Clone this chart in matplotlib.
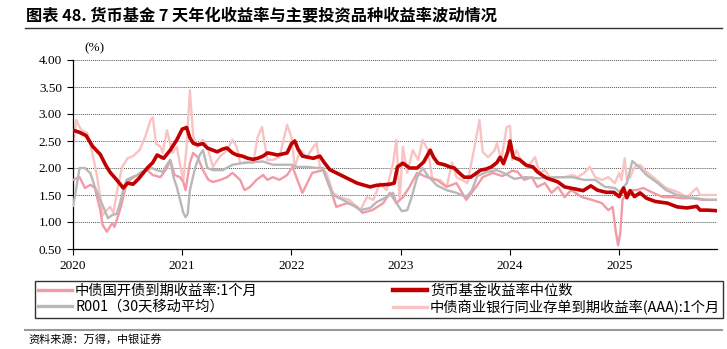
import matplotlib
matplotlib.use("Agg")
import matplotlib.pyplot as plt
from matplotlib.lines import Line2D
import numpy as np

plt.rcParams['font.family'] = ['Liberation Serif', 'Noto Sans CJK SC', 'DejaVu Sans']

# ---- data: x = years since 2020-01-01, y = yield (%) ----
mf_t = [0.0, 0.06, 0.12, 0.18, 0.25, 0.30, 0.34, 0.40, 0.46, 0.50, 0.55, 0.60, 0.68, 0.73, 0.77, 0.83, 0.89, 0.95,
        1.00, 1.04, 1.07, 1.10, 1.14, 1.19, 1.23, 1.28, 1.32, 1.37, 1.41, 1.46, 1.50, 1.55, 1.60, 1.65, 1.69, 1.74,
        1.78, 1.83, 1.87, 1.92, 1.96, 2.00, 2.03, 2.06, 2.10, 2.15, 2.20, 2.26, 2.30, 2.35, 2.40, 2.45, 2.50, 2.54,
        2.60, 2.65, 2.72, 2.78, 2.84, 2.90, 2.94, 2.97, 3.02, 3.08, 3.15, 3.21, 3.27, 3.30, 3.34, 3.40, 3.45, 3.49,
        3.54, 3.58, 3.64, 3.69, 3.73, 3.78, 3.83, 3.88, 3.91, 3.94, 3.98, 4.00, 4.03, 4.09, 4.15, 4.21, 4.25, 4.30,
        4.34, 4.40, 4.44, 4.50, 4.55, 4.60, 4.67, 4.74, 4.80, 4.88, 4.95, 5.00, 5.04, 5.07, 5.10, 5.14, 5.19, 5.25,
        5.33, 5.44, 5.53, 5.62, 5.71, 5.74, 5.80, 5.89]
mf_v = [2.70, 2.66, 2.60, 2.40, 2.25, 2.05, 1.92, 1.78, 1.63, 1.72, 1.70, 1.80, 2.00, 2.10, 2.24, 2.18, 2.33, 2.52,
        2.72, 2.75, 2.56, 2.46, 2.43, 2.45, 2.37, 2.33, 2.30, 2.35, 2.37, 2.28, 2.24, 2.22, 2.18, 2.16, 2.18, 2.22,
        2.28, 2.26, 2.24, 2.26, 2.28, 2.45, 2.50, 2.35, 2.22, 2.20, 2.18, 2.22, 2.10, 1.97, 1.92, 1.87, 1.82, 1.78,
        1.72, 1.69, 1.65, 1.68, 1.69, 1.70, 1.72, 2.02, 2.09, 2.00, 2.00, 2.11, 2.33, 2.20, 2.09, 2.06, 2.02, 2.00,
        1.90, 1.83, 1.83, 1.90, 1.96, 1.98, 2.02, 2.10, 2.20, 2.08, 2.30, 2.50, 2.20, 2.15, 2.05, 2.02, 1.93, 1.86,
        1.81, 1.77, 1.74, 1.65, 1.63, 1.61, 1.58, 1.67, 1.59, 1.55, 1.55, 1.47, 1.63, 1.45, 1.58, 1.47, 1.54, 1.44,
        1.38, 1.35, 1.28, 1.26, 1.29, 1.22, 1.22, 1.21]

r001_t = [0.0, 0.02, 0.06, 0.11, 0.16, 0.20, 0.25, 0.29, 0.32, 0.36, 0.40, 0.43, 0.46, 0.49, 0.54, 0.59, 0.63, 0.68,
          0.72, 0.77, 0.82, 0.86, 0.89, 0.92, 0.95, 0.98, 1.01, 1.03, 1.05, 1.07, 1.12, 1.16, 1.19, 1.23, 1.28, 1.37,
          1.46, 1.55, 1.65, 1.74, 1.83, 1.92, 2.01, 2.05, 2.15, 2.23, 2.29, 2.33, 2.38, 2.44, 2.53, 2.63, 2.72, 2.78,
          2.87, 2.93, 2.96, 3.01, 3.06, 3.10, 3.15, 3.20, 3.25, 3.33, 3.42, 3.51, 3.60, 3.65, 3.70, 3.79, 3.88, 3.95,
          4.04, 4.14, 4.25, 4.41, 4.57, 4.68, 4.78, 4.87, 4.96, 5.00, 5.03, 5.07, 5.12, 5.19, 5.25, 5.34, 5.43, 5.53,
          5.62, 5.71, 5.80, 5.89]
r001_v = [1.30, 1.50, 2.00, 2.00, 1.90, 1.65, 1.41, 1.22, 1.07, 1.13, 1.15, 1.35, 1.59, 1.78, 1.83, 1.87, 1.93, 1.96,
          2.00, 1.96, 1.93, 2.06, 2.15, 1.83, 1.65, 1.41, 1.17, 1.09, 1.15, 1.59, 2.02, 2.24, 2.33, 2.00, 1.96, 1.96,
          2.06, 2.09, 2.11, 2.12, 2.06, 2.06, 2.06, 2.02, 2.02, 2.00, 2.00, 1.75, 1.50, 1.44, 1.35, 1.22, 1.26, 1.37,
          1.46, 1.54, 1.35, 1.20, 1.22, 1.46, 1.83, 2.00, 1.85, 1.68, 1.59, 1.54, 1.46, 1.58, 1.85, 1.93, 1.96, 1.90,
          1.80, 1.83, 1.81, 1.83, 1.83, 1.78, 1.78, 1.65, 1.63, 1.56, 1.62, 1.72, 2.13, 2.00, 1.87, 1.74, 1.59, 1.50,
          1.46, 1.44, 1.41, 1.41]

cdb_t = [0.0, 0.06, 0.11, 0.16, 0.20, 0.25, 0.27, 0.31, 0.36, 0.38, 0.43, 0.46, 0.49, 0.54, 0.59, 0.63, 0.68, 0.73,
         0.80, 0.86, 0.89, 0.93, 0.98, 1.01, 1.03, 1.07, 1.10, 1.14, 1.19, 1.24, 1.28, 1.35, 1.41, 1.46, 1.53, 1.57,
         1.62, 1.68, 1.74, 1.78, 1.83, 1.89, 1.96, 2.01, 2.05, 2.10, 2.19, 2.29, 2.35, 2.41, 2.51, 2.60, 2.65, 2.74,
         2.84, 2.90, 2.96, 3.02, 3.08, 3.15, 3.24, 3.33, 3.42, 3.51, 3.60, 3.69, 3.75, 3.84, 3.93, 3.98, 4.02, 4.07,
         4.13, 4.20, 4.25, 4.32, 4.38, 4.44, 4.50, 4.56, 4.66, 4.75, 4.84, 4.90, 4.94, 4.97, 4.99, 5.01, 5.03, 5.07,
         5.10, 5.16, 5.22, 5.31, 5.40, 5.49, 5.58, 5.67, 5.76, 5.89]
cdb_v = [1.78, 1.83, 1.63, 1.69, 1.63, 1.22, 0.95, 0.82, 0.98, 0.91, 1.22, 1.46, 1.72, 1.81, 1.87, 1.93, 1.96, 1.87,
         1.83, 2.00, 2.15, 1.87, 1.83, 1.74, 1.59, 2.09, 2.28, 2.20, 1.96, 1.78, 1.74, 1.78, 1.83, 1.91, 1.78, 1.59,
         1.65, 1.78, 1.87, 1.78, 1.83, 1.78, 1.87, 2.02, 1.80, 1.54, 1.91, 1.96, 1.65, 1.28, 1.35, 1.28, 1.17, 1.22,
         1.35, 1.54, 1.35, 1.46, 1.65, 1.91, 1.83, 1.78, 1.65, 1.72, 1.41, 1.65, 1.83, 1.91, 1.85, 1.90, 1.95, 1.93,
         1.78, 1.83, 1.65, 1.72, 1.54, 1.65, 1.46, 1.59, 1.46, 1.41, 1.35, 1.22, 1.28, 0.80, 0.57, 0.80, 1.41, 1.54,
         1.59, 1.59, 1.63, 1.54, 1.46, 1.46, 1.44, 1.44, 1.41, 1.41]

ncd_t = [0.0, 0.03, 0.06, 0.08, 0.13, 0.18, 0.22, 0.25, 0.27, 0.31, 0.34, 0.37, 0.41, 0.45, 0.50, 0.55, 0.61, 0.66,
         0.71, 0.73, 0.76, 0.80, 0.82, 0.86, 0.91, 0.95, 0.99, 1.01, 1.04, 1.07, 1.10, 1.14, 1.19, 1.23, 1.28, 1.34,
         1.41, 1.46, 1.50, 1.53, 1.59, 1.65, 1.69, 1.73, 1.76, 1.78, 1.83, 1.89, 1.96, 2.00, 2.03, 2.08, 2.14, 2.20,
         2.23, 2.26, 2.32, 2.38, 2.44, 2.53, 2.63, 2.69, 2.75, 2.81, 2.87, 2.93, 2.96, 2.99, 3.02, 3.06, 3.11, 3.16,
         3.20, 3.25, 3.29, 3.36, 3.42, 3.47, 3.51, 3.56, 3.61, 3.67, 3.72, 3.75, 3.80, 3.86, 3.88, 3.92, 3.97, 4.00,
         4.02, 4.06, 4.11, 4.16, 4.23, 4.27, 4.32, 4.38, 4.44, 4.50, 4.57, 4.62, 4.68, 4.73, 4.78, 4.84, 4.90, 4.96,
         5.00, 5.02, 5.05, 5.07, 5.10, 5.14, 5.19, 5.25, 5.34, 5.43, 5.53, 5.62, 5.71, 5.74, 5.80, 5.89]
ncd_v = [2.39, 2.89, 2.76, 2.70, 2.65, 2.25, 1.85, 1.45, 1.12, 1.22, 1.28, 1.17, 1.65, 2.02, 2.18, 2.22, 2.33, 2.57,
         2.89, 2.94, 2.45, 2.40, 2.28, 2.70, 2.28, 2.39, 1.96, 1.78, 2.39, 3.44, 2.60, 2.39, 2.52, 2.39, 2.02, 2.20,
         2.33, 2.52, 2.39, 2.09, 2.11, 2.09, 2.57, 2.76, 2.39, 2.15, 2.15, 2.20, 2.80, 2.57, 2.02, 2.33, 2.20, 2.39,
         2.46, 2.02, 1.91, 1.54, 1.46, 1.41, 1.22, 1.46, 1.41, 1.72, 1.59, 2.09, 2.52, 1.41, 2.39, 1.91, 2.33, 2.15,
         2.52, 2.33, 1.78, 1.78, 1.65, 2.10, 1.83, 1.78, 1.72, 2.33, 2.89, 2.30, 2.20, 2.33, 2.46, 2.15, 2.76, 2.78,
         2.15, 2.33, 2.09, 2.02, 2.20, 1.91, 1.96, 1.78, 1.83, 1.83, 1.87, 1.83, 1.91, 2.02, 1.83, 1.78, 1.83, 1.72,
         1.91, 1.78, 2.18, 1.78, 1.83, 2.02, 2.06, 1.93, 1.78, 1.63, 1.56, 1.46, 1.63, 1.50, 1.50, 1.50]

year_labels = ['2020', '2021', '2022', '2023', '2024', '2025']
y_ticks = [0.50, 1.00, 1.50, 2.00, 2.50, 3.00, 3.50, 4.00]

labels = ['中债国开债到期收益率:1个月', '货币基金收益率中位数', 'R001（30天移动平均）',
          '中债商业银行同业存单到期收益率(AAA):1个月']
c_cdb = '#F29AA6'
c_mf = '#C00000'
c_r001 = '#B8B8B8'
c_ncd = '#F9C3C3'

fig = plt.figure(figsize=(7.27, 3.49), dpi=100)
ax = fig.add_axes([73 / 727, 1 - 249 / 349, (717 - 73) / 727, (249 - 60) / 349])

ax.plot(ncd_t, ncd_v, color=c_ncd, lw=1.7, zorder=2)
ax.plot(cdb_t, cdb_v, color=c_cdb, lw=1.7, zorder=3)
ax.plot(r001_t, r001_v, color=c_r001, lw=1.7, zorder=4)
ax.plot(mf_t, mf_v, color=c_mf, lw=2.6, zorder=5)

ax.set_xlim(0, 5.895)
ax.set_ylim(0.5, 4.0)
ax.set_yticks(y_ticks)
ax.set_yticklabels([f'{v:.2f}' for v in y_ticks], fontsize=9.5, family='Liberation Serif')
ax.set_xticks(range(len(year_labels)))
ax.set_xticklabels(year_labels, fontsize=9.5, family='Liberation Serif')
ax.tick_params(axis='both', direction='out', length=4, width=0.8, color='black', pad=4)
for s in ['top', 'right']:
    ax.spines[s].set_visible(False)
for s in ['left', 'bottom']:
    ax.spines[s].set_color('black')
    ax.spines[s].set_linewidth(0.9)
ax.yaxis.grid(True, linestyle=(0, (1, 1)), color='#555555', linewidth=0.7)
ax.set_axisbelow(True)

fig.text(94 / 727, 1 - 48 / 349, '(%)', ha='center', va='center', fontsize=9.5, family='Liberation Serif')

# title
fig.text(26 / 727, 1 - 16 / 349, '图表 48. 货币基金 7 天年化收益率与主要投资品种收益率波动情况',
         ha='left', va='center', fontsize=11.7, fontweight='bold',
         family=['Noto Sans CJK SC', 'DejaVu Sans'])
fig.add_artist(Line2D([25 / 727, 722 / 727], [1 - 28 / 349, 1 - 28 / 349], color='#333333', lw=1.0))

# legend
handles = [Line2D([], [], color=c_cdb, lw=2.4), Line2D([], [], color=c_mf, lw=3.2),
           Line2D([], [], color=c_r001, lw=2.4), Line2D([], [], color=c_ncd, lw=2.4)]
order = [0, 2, 1, 3]
leg = fig.legend([handles[i] for i in order], [labels[i] for i in order], ncol=2,
                 loc='upper left', mode='expand',
                 bbox_to_anchor=(35 / 727, 1 - 322 / 349, (723 - 35) / 727, 41 / 349),
                 prop={'family': ['Noto Sans CJK SC', 'DejaVu Sans'], 'size': 10.3},
                 frameon=True, fancybox=False, edgecolor='black', handlelength=2.4,
                 handletextpad=0.2, borderpad=0.2, labelspacing=0.12,
                 borderaxespad=0)
leg.get_frame().set_linewidth(1.0)

fig.add_artist(Line2D([25 / 727, 722 / 727], [1 - 330 / 349, 1 - 330 / 349], color='#999999', lw=1.5))
fig.text(28 / 727, 1 - 339 / 349, '资料来源：万得，中银证券', ha='left', va='center', fontsize=8,
         style='italic', family=['Noto Sans CJK SC', 'DejaVu Sans'])

fig.savefig('out.png', dpi=100)
